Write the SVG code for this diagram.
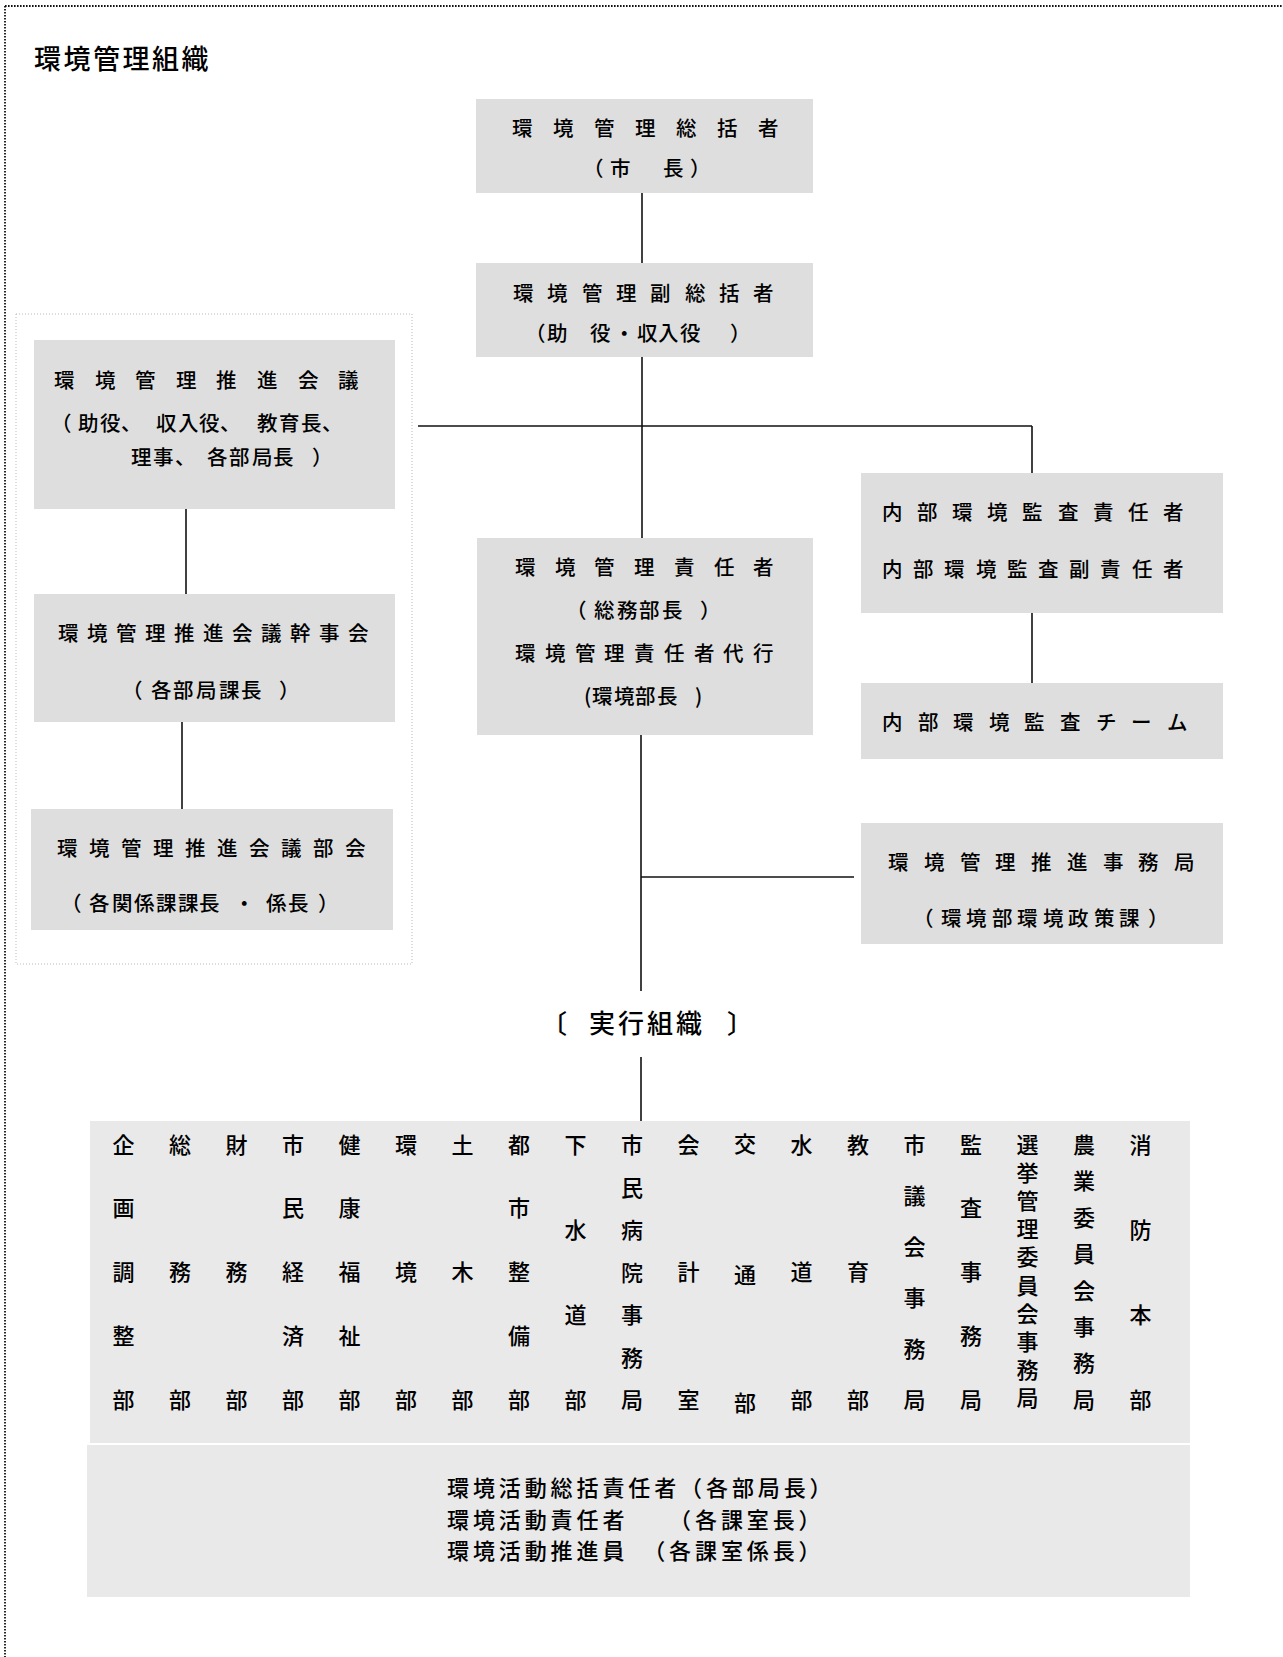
<svg xmlns="http://www.w3.org/2000/svg" width="1283" height="1657" viewBox="0 0 1283 1657">
<style>
.n{fill:#dedede}
.d{fill:#e9e9e9}
text{font-family:"Noto Sans CJK JP","Noto Sans CJK SC",sans-serif;fill:#000;font-weight:500}
.t{font-size:20.5px}
.col{font-size:22px;text-anchor:middle}
.b{font-size:22px;letter-spacing:3.9px}
.big{font-size:27px}
.lbl{font-size:26px}
.conn line{stroke:#111;stroke-width:1.6}
</style>
<rect width="1283" height="1657" fill="#fff"/>
<g id="frame" fill="none">
<line x1="5" y1="6" x2="1283" y2="6" stroke="#111" stroke-width="1.8" stroke-dasharray="1.6 1.4"/>
<line x1="5" y1="6" x2="5" y2="1657" stroke="#111" stroke-width="1.8" stroke-dasharray="1.6 1.4"/>
<rect x="16" y="314" width="396" height="650" stroke="#bbb" stroke-width="1" stroke-dasharray="1 2"/>
</g>
<text id="title" class="big" x="34 63.5 93 122.5 152 181.5" y="69">環境管理組織</text>

<g class="conn" id="connectors">
<line x1="642" y1="193" x2="642" y2="263"/>
<line x1="642" y1="357" x2="642" y2="538"/>
<line x1="418" y1="426" x2="1032" y2="426"/>
<line x1="1032" y1="426" x2="1032" y2="473"/>
<line x1="186" y1="503" x2="186" y2="594"/>
<line x1="182" y1="720" x2="182" y2="809"/>
<line x1="1032" y1="613" x2="1032" y2="683"/>
<line x1="641" y1="735" x2="641" y2="991"/>
<line x1="641" y1="877" x2="854" y2="877"/>
<line x1="641" y1="1057" x2="641" y2="1121"/>
</g>

<g id="n-sokatsu">
<rect class="n" x="476" y="99" width="337" height="94"/>
<text class="t" x="512 553 594 635 676 717 758" y="136">環境管理総括者</text>
<text class="t" x="583 610 636 663 690" y="176">（市　長）</text>
</g>
<g id="n-fuku">
<rect class="n" x="476" y="263" width="337" height="94"/>
<text class="t" x="513 547 582 616 650 685 719 753" y="301">環境管理副総括者</text>
<text class="t" x="525 547 568 590 614 637 658 680 730" y="341">（助　役・収入役）</text>
</g>
<g id="n-kaigi">
<rect class="n" x="34" y="340" width="361" height="169"/>
<text class="t" x="54 95 135 176 216 257 298 338" y="388">環境管理推進会議</text>
<text class="t" x="51 78 100 121 156 178 199 220 257 279 301 322" y="431">（助役、収入役、教育長、</text>
<text class="t" x="131 153 175 207 229 252 273 312" y="465">理事、各部局長）</text>
</g>
<g id="n-kanji">
<rect class="n" x="34" y="594" width="361" height="128"/>
<text class="t" x="58 87 116 145 174 203 232 261 290 319 348" y="641">環境管理推進会議幹事会</text>
<text class="t" x="122 151 173 196 219 241 279" y="698">（各部局課長）</text>
</g>
<g id="n-bukai">
<rect class="n" x="31" y="809" width="362" height="121"/>
<text class="t" x="57 89 121 153 185 217 249 281 313 345" y="856">環境管理推進会議部会</text>
<text class="t" x="61 89 112 134 156 178 199 234 266 288 318" y="911">（各関係課課長・係長）</text>
</g>
<g id="n-sekinin">
<rect class="n" x="477" y="538" width="336" height="197"/>
<text class="t" x="515 555 594 634 674 714 753" y="575">環境管理責任者</text>
<text class="t" x="566 594 617 639 662 700" y="618">（総務部長）</text>
<text class="t" x="515 545 575 604 634 664 694 723 753" y="661">環境管理責任者代行</text>
<text class="t" x="584 592 614 635 657 695" y="704">(環境部長)</text>
</g>
<g id="n-kansa">
<rect class="n" x="861" y="473" width="362" height="140"/>
<text class="t" x="882 917 952 987 1022 1058 1093 1128 1163" y="520">内部環境監査責任者</text>
<text class="t" x="882 913 944 976 1007 1038 1069 1100 1132 1163" y="577">内部環境監査副責任者</text>
</g>
<g id="n-team">
<rect class="n" x="861" y="683" width="362" height="76"/>
<text class="t" x="882 918 953 989 1024 1060 1096 1131 1167" y="730">内部環境監査チーム</text>
</g>
<g id="n-jimukyoku">
<rect class="n" x="861" y="823" width="362" height="121"/>
<text class="t" x="888 924 960 995 1031 1067 1103 1138 1174" y="870">環境管理推進事務局</text>
<text class="t" x="913 941 966 992 1017 1043 1068 1094 1119 1148" y="926">（環境部環境政策課）</text>
</g>
<text id="jikko" class="lbl" x="541 565 589 618 647 676 703 727" y="1033">〔　実行組織　〕</text>

<g id="n-depts">
<rect class="d" x="90" y="1121" width="1100" height="322"/>
<text class="col" x="123.6 123.6 123.6 123.6 123.6" y="1153 1216 1280 1344 1408">企画調整部</text>
<text class="col" x="180.1 180.1 180.1" y="1153 1280 1408">総務部</text>
<text class="col" x="236.6 236.6 236.6" y="1153 1280 1408">財務部</text>
<text class="col" x="293.1 293.1 293.1 293.1 293.1" y="1153 1216 1280 1344 1408">市民経済部</text>
<text class="col" x="349.6 349.6 349.6 349.6 349.6" y="1153 1216 1280 1344 1408">健康福祉部</text>
<text class="col" x="406.1 406.1 406.1" y="1153 1280 1408">環境部</text>
<text class="col" x="462.6 462.6 462.6" y="1153 1280 1408">土木部</text>
<text class="col" x="519.1 519.1 519.1 519.1 519.1" y="1153 1216 1280 1344 1408">都市整備部</text>
<text class="col" x="575.6 575.6 575.6 575.6" y="1153 1238 1323 1408">下水道部</text>
<text class="col" x="632.1 632.1 632.1 632.1 632.1 632.1 632.1" y="1153 1195.5 1238 1280.5 1323 1365.5 1408">市民病院事務局</text>
<text class="col" x="688.6 688.6 688.6" y="1153 1280 1408">会計室</text>
<text class="col" x="745.1 745.1 745.1" y="1152 1283 1411">交通部</text>
<text class="col" x="801.6 801.6 801.6" y="1153 1280 1408">水道部</text>
<text class="col" x="858.1 858.1 858.1" y="1153 1280 1408">教育部</text>
<text class="col" x="914.6 914.6 914.6 914.6 914.6 914.6" y="1153 1204 1255 1306 1357 1408">市議会事務局</text>
<text class="col" x="971.1 971.1 971.1 971.1 971.1" y="1153 1216 1280 1344 1408">監査事務局</text>
<text class="col" x="1027.6 1027.6 1027.6 1027.6 1027.6 1027.6 1027.6 1027.6 1027.6 1027.6" y="1153 1181 1209 1237 1265 1294 1322 1350 1378 1406">選挙管理委員会事務局</text>
<text class="col" x="1084.1 1084.1 1084.1 1084.1 1084.1 1084.1 1084.1 1084.1" y="1153 1189 1226 1262 1299 1335 1371 1408">農業委員会事務局</text>
<text class="col" x="1140.6 1140.6 1140.6 1140.6" y="1153 1238 1323 1408">消防本部</text>
</g>
<g id="n-katsudo">
<rect class="d" x="87" y="1445" width="1103" height="152"/>
<text class="b" x="447" y="1496">環境活動総括責任者（各部局長）</text>
<text class="b" x="447" y="1528">環境活動責任者　　（各課室長）</text>
<text class="b" x="447" y="1559">環境活動推進員　（各課室係長）</text>
</g>
</svg>
